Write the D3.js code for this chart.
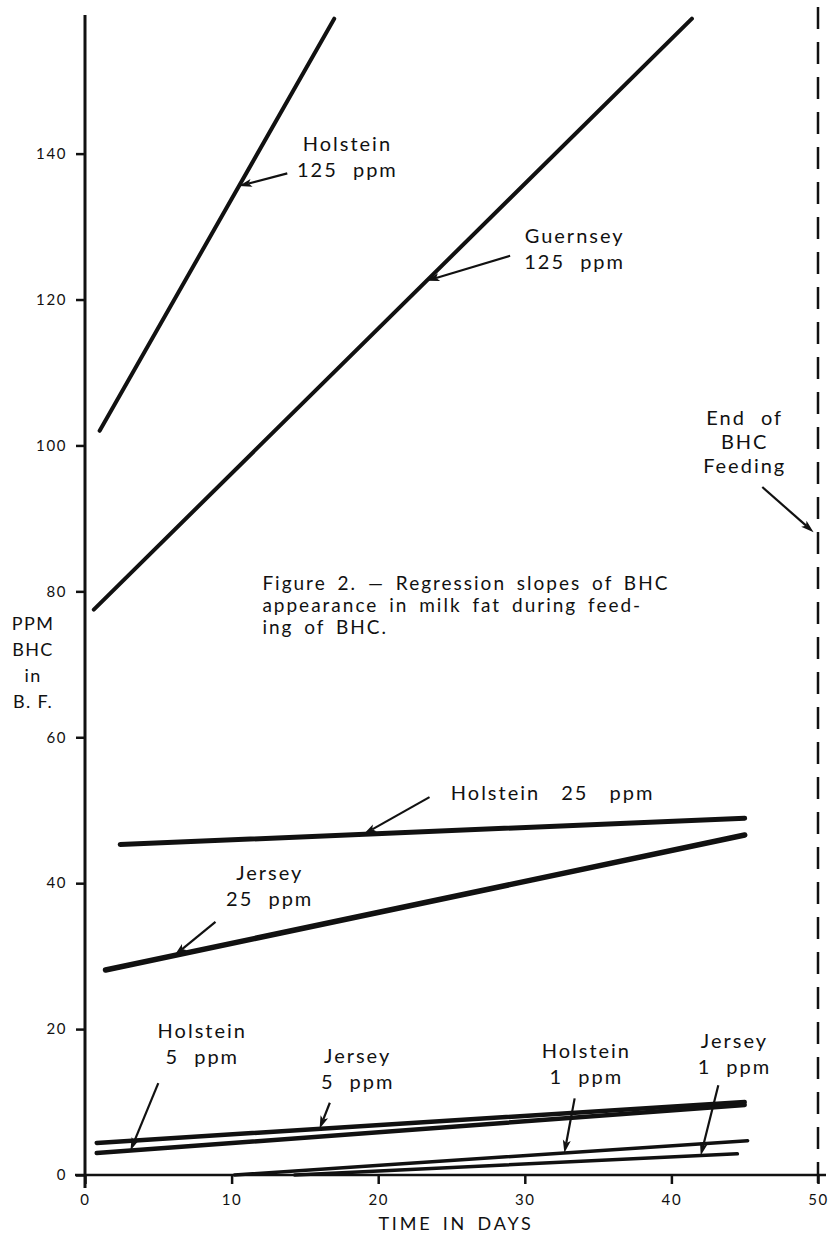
<!DOCTYPE html>
<html>
<head>
<meta charset="utf-8">
<script src="https://cdn.jsdelivr.net/npm/d3@7"></script>
<style>
body { margin: 0; background: #fff; }
svg text { font-family: Lato, "Noto Sans", sans-serif; fill: #111; }
</style>
</head>
<body>
<div id="chart"></div>
<script>
// fitted regression lines (start / end of each line)
var seriesNames = ["Holstein 125 ppm", "Guernsey 125 ppm", "Holstein 25 ppm", "Jersey 25 ppm",
	"Jersey 5 ppm", "Holstein 5 ppm", "Holstein 1 ppm", "Jersey 1 ppm"];
var startDay = [1.0, 0.6, 2.4, 1.4, 0.8, 0.8, 10.2, 14.3];
var startPpm = [102, 77.5, 45.3, 28.1, 4.4, 3.0, 0, 0];
var endDay = [17.0, 41.4, 45.0, 45.0, 45.0, 45.0, 45.2, 44.5];
var endPpm = [158.5, 158.5, 48.9, 46.6, 10.0, 9.6, 4.7, 2.9];

var xTicks = [0, 10, 20, 30, 40, 50];
var yTicks = [0, 20, 40, 60, 80, 100, 120, 140];
var endOfFeedingDay = 50;

var xTitle = "TIME IN DAYS";
var yTitleLines = ["PPM", "BHC", "in", "B. F."];
var captionLines = ["Figure 2. \u2014 Regression slopes of BHC",
	"appearance in milk fat during feed-",
	"ing of BHC."];

// callouts: text lines, where the text sits (day, ppm), arrow tail (day, ppm),
// and the series / day the arrow points at
var callouts = [
	{ lines: ["Holstein", "125 ppm"], day: 17.9, ppm: 140.4, tail: [13.8, 137.3], series: 0, at: 10.5 },
	{ lines: ["Guernsey", "125 ppm"], day: 33.4, ppm: 127.7, tail: [29.0, 126.0], series: 1, at: 23.3 },
	{ lines: ["Holstein 25 ppm"], day: 31.9, ppm: 51.4, tail: [23.5, 51.8], series: 2, at: 19.0, gap: 14 },
	{ lines: ["Jersey", "25 ppm"], day: 12.6, ppm: 40.4, tail: [8.9, 34.7], series: 3, at: 6.1 },
	{ lines: ["Holstein", "5 ppm"], day: 8.0, ppm: 18.8, tail: [5.0, 12.6], series: 5, at: 3.1 },
	{ lines: ["Jersey", "5 ppm"], day: 18.6, ppm: 15.3, tail: [16.7, 9.9], series: 4, at: 16.0 },
	{ lines: ["Holstein", "1 ppm"], day: 34.2, ppm: 16.0, tail: [33.4, 10.5], series: 6, at: 32.7 },
	{ lines: ["Jersey", "1 ppm"], day: 44.3, ppm: 17.4, tail: [43.2, 12.3], series: 7, at: 42.0 },
	{ lines: ["End of", "BHC", "Feeding"], day: 45.0, ppm: 102.8, tail: [46.2, 94.3], series: -1, at: 49.7, atPpm: 88.1, step: 24 }
];

var drawFigure = function() {
	var width = 833,
		height = 1239,
		lineWidths = [4, 4, 5, 5.5, 4.5, 4.5, 3.5, 3.5],
		ink = "#111";

	var x = d3.scaleLinear().domain([0, 50]).range([85, 818]);
	var y = d3.scaleLinear().domain([0, 159]).range([1175, 15]);

	var svg = d3.select("#chart")
		.append("svg")
		.attr("width", width)
		.attr("height", height);

	function valueAt(s, d) {
		return startPpm[s] + (d - startDay[s]) * (endPpm[s] - startPpm[s]) / (endDay[s] - startDay[s]);
	}

	// axes
	var gy = svg.append("g")
		.attr("transform", "translate(" + x(0) + ",0)")
		.call(d3.axisLeft(y).tickValues(yTicks).tickSize(9).tickPadding(9).tickSizeOuter(0));
	var gx = svg.append("g")
		.attr("transform", "translate(0," + y(0) + ")")
		.call(d3.axisBottom(x).tickValues(xTicks).tickSize(9).tickPadding(10).tickSizeOuter(0));

	[gx, gy].forEach(function (g) {
		g.attr("font-family", null).attr("font-size", null);
		g.select(".domain").remove();
		g.selectAll(".tick line").attr("stroke", ink).attr("stroke-width", 2.5);
		g.selectAll(".tick text")
			.style("font-size", "15px")
			.attr("letter-spacing", 1.6);
	});

	svg.append("line")
		.attr("x1", x(0)).attr("x2", x(0))
		.attr("y1", y(159)).attr("y2", y(0) + 13)
		.attr("stroke", ink).attr("stroke-width", 3);

	svg.append("line")
		.attr("x1", x(0) - 10).attr("x2", x(50) + 8)
		.attr("y1", y(0)).attr("y2", y(0))
		.attr("stroke", ink).attr("stroke-width", 2.5);

	// end of feeding
	svg.append("line")
		.attr("x1", x(endOfFeedingDay)).attr("x2", x(endOfFeedingDay))
		.attr("y1", y(159) - 8).attr("y2", y(0) + 8)
		.attr("stroke", ink)
		.attr("stroke-width", 2.5)
		.attr("stroke-dasharray", "22,13");

	// regression lines
	svg.selectAll("line.reg")
		.data(seriesNames)
		.join("line")
		.attr("class", "reg")
		.attr("x1", function (d, i) { return x(startDay[i]); })
		.attr("y1", function (d, i) { return y(startPpm[i]); })
		.attr("x2", function (d, i) { return x(endDay[i]); })
		.attr("y2", function (d, i) { return y(endPpm[i]); })
		.attr("stroke", ink)
		.attr("stroke-width", function (d, i) { return lineWidths[i]; })
		.attr("stroke-linecap", "round");

	// callouts
	callouts.forEach(function (c) {
		var t = svg.append("text")
			.attr("text-anchor", "middle")
			.style("font-size", "20px")
			.attr("letter-spacing", 2)
			.attr("word-spacing", c.gap || 8);

		c.lines.forEach(function (s, k) {
			t.append("tspan")
				.attr("x", x(c.day))
				.attr("y", y(c.ppm) + k * (c.step || 26))
				.text(s);
		});

		var tipV = c.series < 0 ? c.atPpm : valueAt(c.series, c.at),
			x0 = x(c.tail[0]), y0 = y(c.tail[1]),
			x1 = x(c.at), y1 = y(tipV),
			a = Math.atan2(y1 - y0, x1 - x0),
			hl = 13, hw = 4,
			bx = x1 - hl * Math.cos(a), by = y1 - hl * Math.sin(a);

		svg.append("line")
			.attr("x1", x0).attr("y1", y0)
			.attr("x2", bx + 3 * Math.cos(a)).attr("y2", by + 3 * Math.sin(a))
			.attr("stroke", ink)
			.attr("stroke-width", 2.2);

		svg.append("path")
			.attr("d", "M" + x1 + "," + y1 +
				"L" + (bx - hw * Math.sin(a)) + "," + (by + hw * Math.cos(a)) +
				"L" + (bx + 3 * Math.cos(a)) + "," + (by + 3 * Math.sin(a)) +
				"L" + (bx + hw * Math.sin(a)) + "," + (by - hw * Math.cos(a)) + "Z")
			.attr("fill", ink);
	});

	// caption
	var cap = svg.append("text")
		.style("font-size", "19px")
		.attr("letter-spacing", 2)
		.attr("word-spacing", 4);
	captionLines.forEach(function (s, k) {
		cap.append("tspan")
			.attr("x", x(12.1))
			.attr("y", y(80.2) + k * 22)
			.text(s);
	});

	// axis titles
	var yt = svg.append("text")
		.attr("text-anchor", "middle")
		.style("font-size", "18px")
		.attr("letter-spacing", 1.4);
	yTitleLines.forEach(function (s, k) {
		yt.append("tspan")
			.attr("x", 33)
			.attr("y", 630 + k * 26)
			.text(s);
	});

	svg.append("text")
		.attr("x", 456)
		.attr("y", 1230)
		.attr("text-anchor", "middle")
		.style("font-size", "18px")
		.attr("letter-spacing", 2.8)
		.attr("word-spacing", 3)
		.text(xTitle);
};

drawFigure();
</script>
</body>
</html>
